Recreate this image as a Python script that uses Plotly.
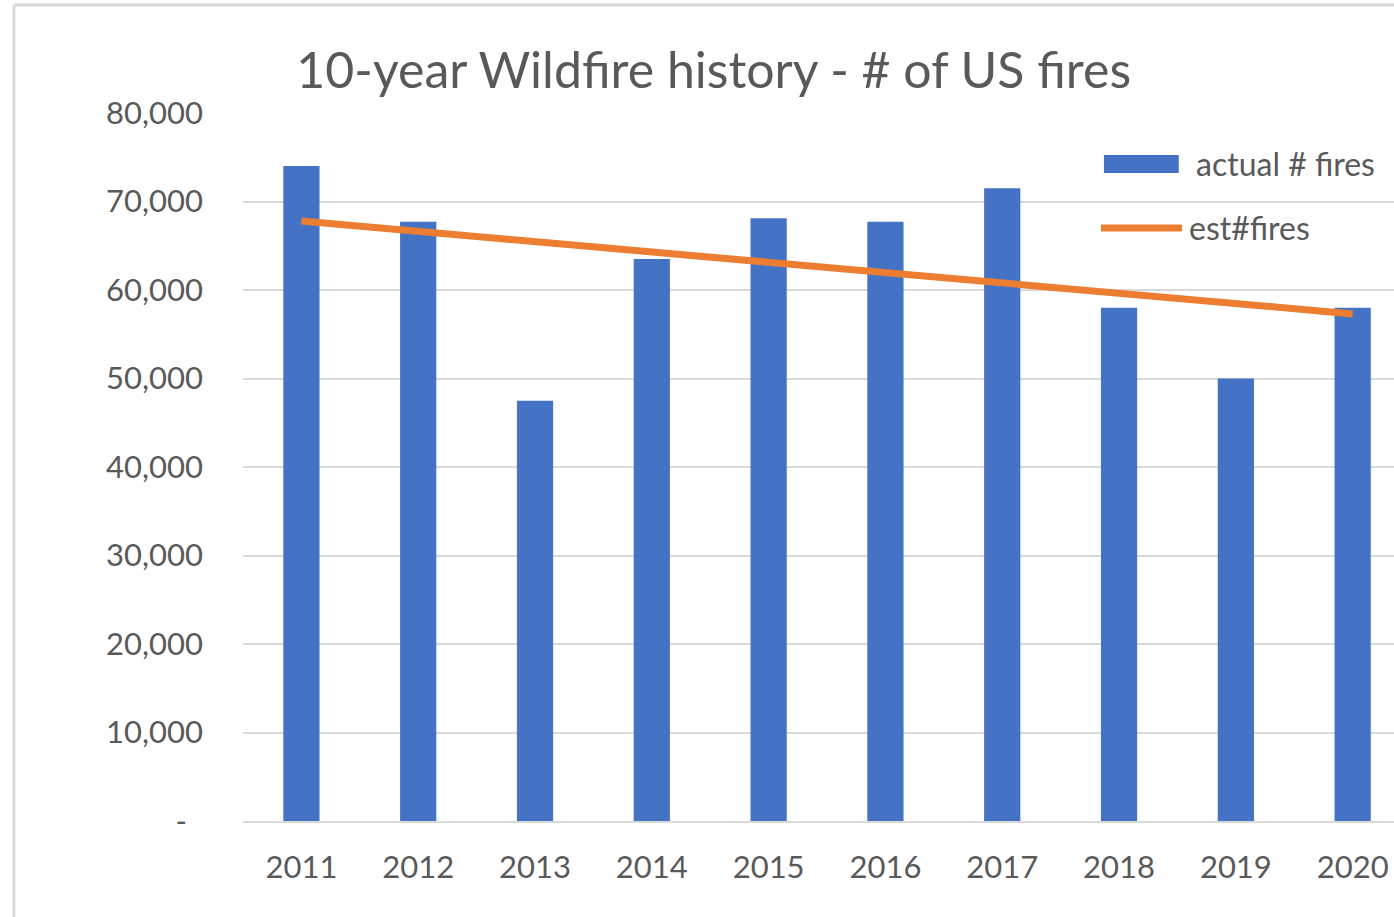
import plotly.graph_objects as go

# data
years = ["2011", "2012", "2013", "2014", "2015", "2016", "2017", "2018", "2019", "2020"]
actual_fires = [74000, 67700, 47500, 63500, 68100, 67700, 71500, 58000, 50000, 58000]
est_fires = [67800, 66650, 65500, 64300, 63150, 62000, 60850, 59650, 58500, 57300]
y_ticks = [0, 10000, 20000, 30000, 40000, 50000, 60000, 70000, 80000]
y_ticktext = ["-\u00a0\u00a0", "10,000", "20,000", "30,000", "40,000",
              "50,000", "60,000", "70,000", "80,000"]

BLUE = "#4472C4"
ORANGE = "#ED7D31"
TEXT = "#595959"
GRID = "#D9D9D9"
FONT = "Lato, 'Open Sans', sans-serif"

fig = go.Figure()

fig.add_trace(go.Bar(
    x=years, y=actual_fires,
    name="actual # fires",
    marker=dict(color=BLUE, line=dict(width=0)),
))

fig.add_trace(go.Scatter(
    x=years, y=est_fires,
    name="est#fires",
    mode="lines",
    line=dict(color=ORANGE, width=7),
))

# chart area border (left and top visible, rest cropped)
fig.add_shape(type="line", xref="paper", yref="paper",
              x0=-0.199, x1=-0.199, y0=1.1525, y1=-0.2,
              line=dict(color=GRID, width=3))
fig.add_shape(type="line", xref="paper", yref="paper",
              x0=-0.199, x1=1.1, y0=1.1525, y1=1.1525,
              line=dict(color=GRID, width=3))

# legend drawn by hand to get Excel-like swatches
fig.add_shape(type="rect", xref="paper", yref="paper",
              x0=0.748, x1=0.813, y0=0.9153, y1=0.9407,
              fillcolor=BLUE, line=dict(width=0))
fig.add_shape(type="line", xref="paper", yref="paper",
              x0=0.7454, x1=0.8158, y0=0.8376, y1=0.8376,
              line=dict(color=ORANGE, width=7))
fig.add_annotation(xref="paper", yref="paper", x=0.826, y=0.928,
                   text="actual # fires", showarrow=False,
                   xanchor="left", yanchor="middle",
                   font=dict(family=FONT, size=32, color=TEXT))
fig.add_annotation(xref="paper", yref="paper", x=0.8202, y=0.8376,
                   text="est#fires", showarrow=False,
                   xanchor="left", yanchor="middle",
                   font=dict(family=FONT, size=32, color=TEXT))

fig.update_layout(
    width=1394, height=917,
    margin=dict(l=243, r=0, t=113, b=96),
    paper_bgcolor="white",
    plot_bgcolor="white",
    showlegend=False,
    bargap=0.69,
    font=dict(family=FONT, color=TEXT),
    title=dict(
        text="10-year Wildfire history - # of US fires",
        x=0.512, xref="container", xanchor="center",
        y=1 - 70 / 917, yref="container", yanchor="middle",
        font=dict(family=FONT, size=50, color=TEXT),
    ),
)

fig.update_xaxes(
    type="category",
    range=[-0.5, 9.354],
    showgrid=False,
    showline=True, linecolor=GRID, linewidth=2,
    ticks="", ticklabelstandoff=18,
    tickfont=dict(family=FONT, size=31, color=TEXT),
)

fig.update_yaxes(
    range=[0, 80000],
    tickvals=y_ticks, ticktext=y_ticktext,
    showgrid=True, gridcolor=GRID, gridwidth=2,
    zeroline=False, showline=False,
    ticks="", ticklabelstandoff=39,
    tickfont=dict(family=FONT, size=31, color=TEXT),
)

fig.write_html("out.html", config={"displayModeBar": False},
               post_script="document.body.style.margin='0';")
